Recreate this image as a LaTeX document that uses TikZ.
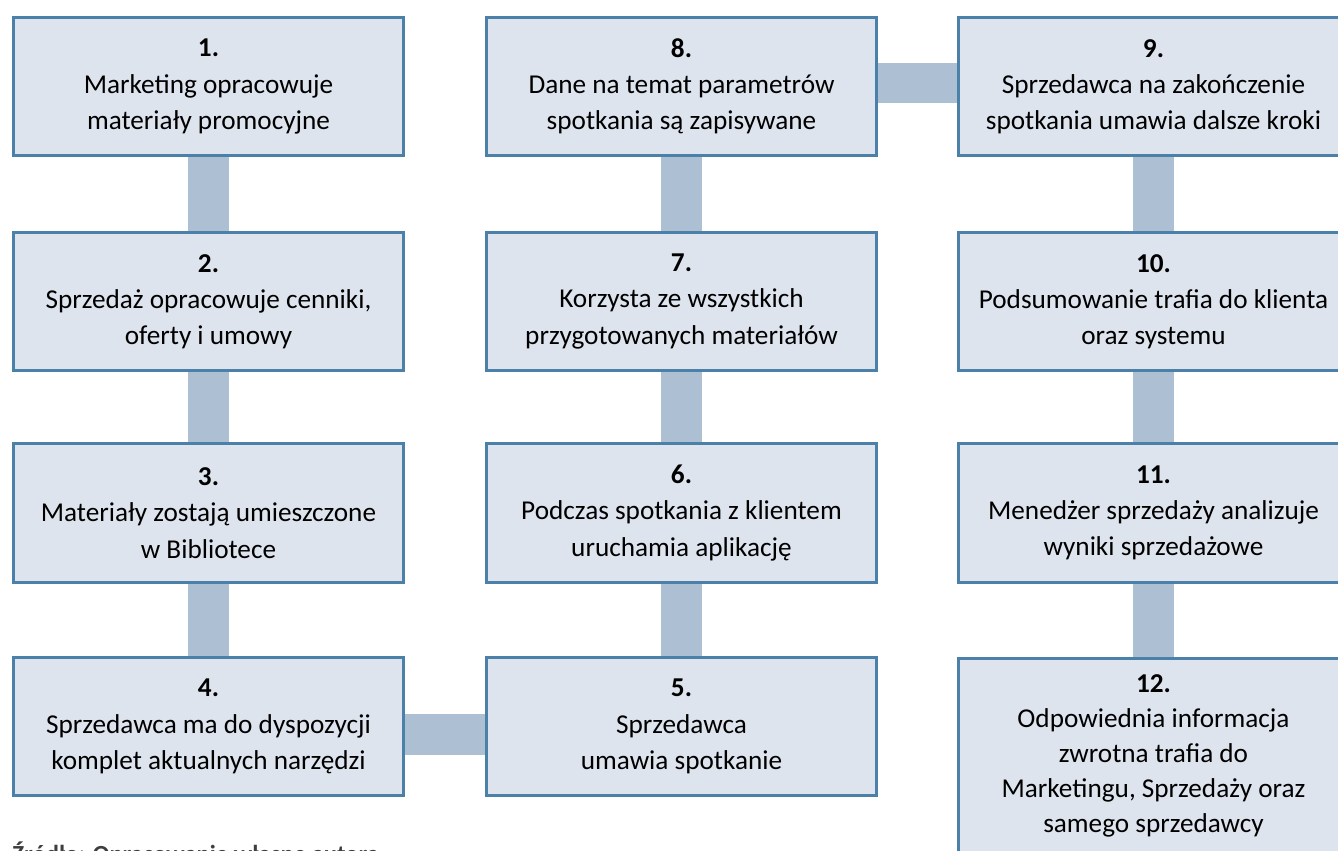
\documentclass[tikz,border=0pt]{standalone}
\usepackage{fontspec}
\setmainfont{Carlito}
\usepackage{xcolor}
\definecolor{ramka}{HTML}{4B80A8}
\definecolor{tlo}{HTML}{DEE4EE}
\definecolor{pasekKolor}{HTML}{ADBFD3}
\definecolor{zrodloKolor}{HTML}{3F3F3F}
\usetikzlibrary{backgrounds}

\begin{document}
\begin{tikzpicture}[x=0.02cm, y=-0.02cm,
      krok/.style={rectangle, draw=ramka, fill=tlo, line width=0.06cm,
                   minimum width=7.82cm, minimum height=2.78cm, align=center,
                   font=\fontsize{15.5}{20.6}\selectfont},
      pasek/.style={draw=pasekKolor, line width=0.82cm}
    ]
    \useasboundingbox (0,0) rectangle (1338,851);
    \node[krok] (k1) at (208.5,86.5) {\textbf{1.}\\ Marketing opracowuje\\ materiały promocyjne};
    \node[krok] (k2) at (208.5,301.5) {\textbf{2.}\\ Sprzedaż opracowuje cenniki,\\ oferty i umowy};
    \node[krok] (k3) at (208.5,513) {\textbf{3.}\\ Materiały zostają umieszczone\\ w Bibliotece};
    \node[krok] (k4) at (208.5,726.5) {\textbf{4.}\\ Sprzedawca ma do dyspozycji\\ komplet aktualnych narzędzi};
    \node[krok] (k5) at (681.5,726.5) {\textbf{5.}\\ Sprzedawca\\ umawia spotkanie};
    \node[krok] (k6) at (681.5,513) {\textbf{6.}\\ Podczas spotkania z klientem\\ uruchamia aplikację};
    \node[krok] (k7) at (681.5,301.5) {\textbf{7.}\\ Korzysta ze wszystkich\\ przygotowanych materiałów};
    \node[krok] (k8) at (681.5,86.5) {\textbf{8.}\\ Dane na temat parametrów\\ spotkania są zapisywane};
    \node[krok] (k9) at (1153.5,86.5) {\textbf{9.}\\ Sprzedawca na zakończenie\\ spotkania umawia dalsze kroki};
    \node[krok] (k10) at (1153.5,301.5) {\textbf{10.}\\ Podsumowanie trafia do klienta\\ oraz systemu};
    \node[krok] (k11) at (1153.5,513) {\textbf{11.}\\ Menedżer sprzedaży analizuje\\ wyniki sprzedażowe};
    \node[krok, anchor=north, minimum height=0pt, inner ysep=0.32cm, text depth=1.4cm,
          font=\fontsize{15.5}{19.9}\selectfont] (k12) at (1153.5,657)
      {\textbf{12.}\\ Odpowiednia informacja\\ zwrotna trafia do\\ Marketingu, Sprzedaży oraz\\ samego sprzedawcy};
    \node[anchor=base west, inner sep=0, text=zrodloKolor, font=\bfseries\fontsize{14}{16}\selectfont] (zrodlo)
      at (12,862) {Źródło: Opracowanie własne autora};
    \begin{scope}[on background layer]
      \draw[pasek] (k1) -- (k2);
      \draw[pasek] (k2) -- (k3);
      \draw[pasek] (k3) -- (k4);
      \draw[pasek] ([yshift=-0.16cm]k4.east) -- ([yshift=-0.16cm]k5.west);
      \draw[pasek] (k5) -- (k6);
      \draw[pasek] (k6) -- (k7);
      \draw[pasek] (k7) -- (k8);
      \draw[pasek] ([yshift=0.07cm]k8.east) -- ([yshift=0.07cm]k9.west);
      \draw[pasek] (k9) -- (k10);
      \draw[pasek] (k10) -- (k11);
      \draw[pasek] (k11) -- (k12);
    \end{scope}
  \end{tikzpicture}
\end{document}
